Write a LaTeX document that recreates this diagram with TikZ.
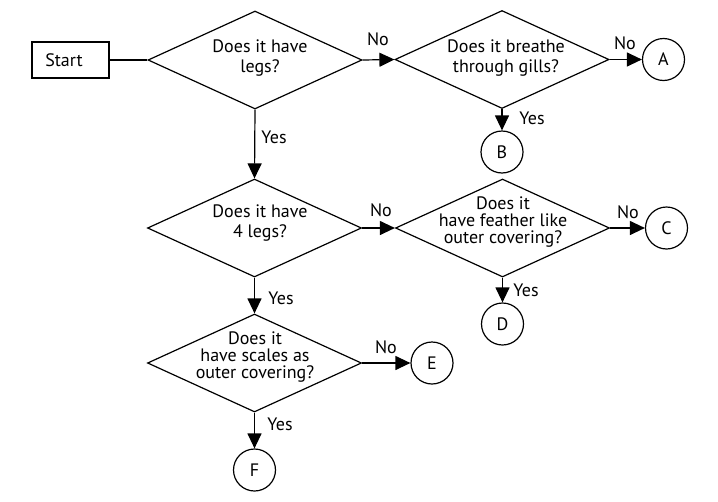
\documentclass[tikz,border=0pt]{standalone}
\usepackage{fontspec}
\setmainfont{PT Sans}
\usetikzlibrary{shapes.geometric,arrows.meta}
\begin{document}
\begin{tikzpicture}[x=1pt,y=-1pt,
  line width=1.2pt,
  dia/.style={draw, shape=diamond, minimum width=214pt, minimum height=98pt, inner sep=0pt, aspect=2.18},
  term/.style={draw, circle, minimum size=42pt, inner sep=0pt, font=\fontsize{18}{20}\selectfont},
  qtext/.style={align=center, inner sep=0pt, font=\fontsize{18}{20}\selectfont},
  qtextb/.style={align=center, inner sep=0pt, font=\fontsize{18}{17}\selectfont},
  lab/.style={inner sep=0pt, font=\fontsize{18}{20}\selectfont},
  arr/.style={-{Triangle[length=15pt,width=14pt]}},
]
\useasboundingbox (0,0) rectangle (718,501);
\fill[white] (0,0) rectangle (718,501);
\node[draw, minimum width=77pt, minimum height=36pt, inner sep=0pt] (start) at (70.5,60) {};
\node[lab] (starttext) at (64,60) {Start};
\node[dia] (d1) at (255,60) {};
\node[dia] (d2) at (502,59.5) {};
\node[dia] (d3) at (254.5,228) {};
\node[dia] (d4) at (502.5,228) {};
\node[dia] (d5) at (254.5,363) {};
\node[qtext] (t1) at (260,58) {Does it have\\legs?};
\node[qtext] (t2) at (506,58) {Does it breathe\\through gills?};
\node[qtext] (t3) at (260,223) {Does it have\\4 legs?};
\node[qtextb] (t4) at (503,222) {Does it\\have feather like\\outer covering?};
\node[qtextb] (t5) at (255,357) {Does it\\have scales as\\outer covering?};
\node[term] (A) at (663.5,59.5) {A};
\node[term] (B) at (502,152) {B};
\node[term] (C) at (666.5,228) {C};
\node[term] (D) at (502.5,324) {D};
\node[term] (E) at (432,363) {E};
\node[term] (F) at (254.5,470) {F};
\draw (start.east) -- (d1.west);
\draw[arr] (d1.east) -- (d2.west);
\draw[arr] (d2.east) -- (A.west);
\draw[arr] (d2.south) -- (B.north);
\draw[arr] (d1.south) -- (d3.north);
\draw[arr] (d3.east) -- (d4.west);
\draw[arr] (d4.east) -- (C.west);
\draw[arr] (d4.south) -- (D.north);
\draw[arr] (d3.south) -- (d5.north);
\draw[arr] (d5.east) -- (E.west);
\draw[arr] (d5.south) -- (F.north);
\node[lab] (l1) at (378,39) {No};
\node[lab] (l2) at (274,137) {Yes};
\node[lab] (l3) at (625,43) {No};
\node[lab] (l4) at (532,118) {Yes};
\node[lab] (l5) at (381,210) {No};
\node[lab] (l6) at (281,298) {Yes};
\node[lab] (l7) at (628,212) {No};
\node[lab] (l8) at (526,290) {Yes};
\node[lab] (l9) at (386,347) {No};
\node[lab] (l10) at (280,424) {Yes};
\end{tikzpicture}
\end{document}
